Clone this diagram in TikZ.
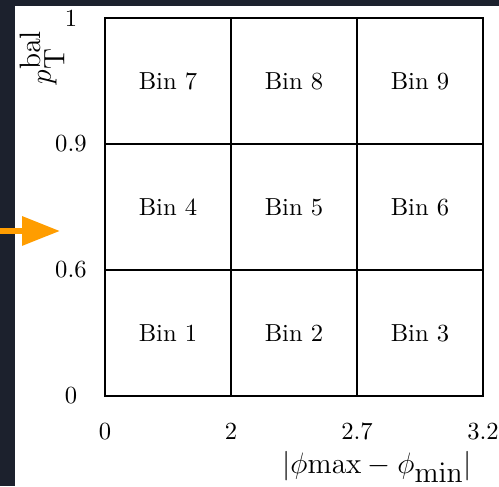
\documentclass[tikz,border=0pt]{standalone}
\usetikzlibrary{arrows.meta,positioning}
\definecolor{slate}{RGB}{28,33,45}
\definecolor{marker}{RGB}{255,157,0}

\begin{document}
\begin{tikzpicture}[
      x=1.8cm,y=1.8cm,node distance=0pt,
      bin/.style={draw,line width=0.9pt,outer sep=0pt,minimum size=1.8cm,inner sep=0pt},
      tick/.style={inner sep=0pt},
      axis/.style={font=\large,inner sep=0pt},
      arr/.style={-{Triangle[length=5.4mm,width=4mm]},line width=2.4pt,draw=marker,fill=marker}]
    \fill[white] (-0.833,-0.714) rectangle (3.127,3.143);
    \fill[slate] (-0.833,-0.714) rectangle (-0.714,3.143);
    \fill[slate] (-0.833,3.095) rectangle (3.127,3.143);
    \useasboundingbox (-0.833,-0.714) rectangle (3.127,3.143);
    \node[bin] (bin1) at (0.5,0.5) {Bin 1};
    \node[bin,right=of bin1] (bin2) {Bin 2};
    \node[bin,right=of bin2] (bin3) {Bin 3};
    \node[bin,above=of bin1] (bin4) {Bin 4};
    \node[bin,right=of bin4] (bin5) {Bin 5};
    \node[bin,right=of bin5] (bin6) {Bin 6};
    \node[bin,above=of bin4] (bin7) {Bin 7};
    \node[bin,right=of bin7] (bin8) {Bin 8};
    \node[bin,right=of bin8] (bin9) {Bin 9};
    % axis values
    \node[tick] (y0) at (-0.27,0) {0};
    \node[tick] (y06) at (-0.27,1) {0.6};
    \node[tick] (y09) at (-0.27,2) {0.9};
    \node[tick] (y1) at (-0.27,3) {1};
    \node[tick] (x0) at (0,-0.28) {0};
    \node[tick] (x2) at (1,-0.28) {2};
    \node[tick] (x27) at (2,-0.28) {2.7};
    \node[tick] (x32) at (3,-0.28) {3.2};
    \node[axis,rotate=90] (ylab) at (-0.5,2.69) {$p_{\textstyle\mathrm{T}}^{\textstyle\mathrm{bal}}$};
    \node[axis] (xlab) at (2.16,-0.563) {$|\phi\mathrm{max}-\phi_{\textstyle\mathrm{min}}|$};
    \coordinate (arrS) at (-0.833,1.31);
    \coordinate (arrE) at (-0.357,1.31);
    \draw[arr] (arrS)--(arrE);
\end{tikzpicture}
\end{document}
